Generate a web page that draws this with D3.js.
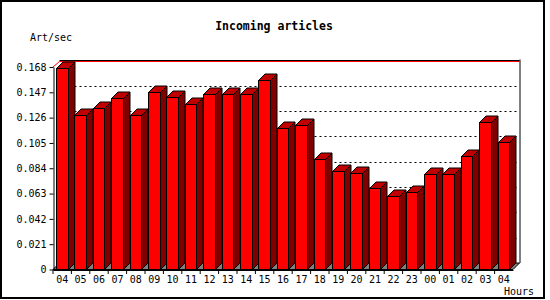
<!DOCTYPE html>
<html>
<head>
<meta charset="utf-8">
<script src="https://cdn.jsdelivr.net/npm/d3@7"></script>
<style>
	html, body { margin: 0; padding: 0; background: #fff; }
	svg text { font-family: "DejaVu Sans Mono", monospace; font-size: 10px; fill: #000; }
</style>
</head>
<body>
<script>

const HOURS = ['04', '05', '06', '07', '08', '09', '10', '11', '12', '13', '14', '15', '16',
		'17', '18', '19', '20', '21', '22', '23', '00', '01', '02', '03', '04'],
	ARTICLES = [0.167, 0.128, 0.134, 0.142, 0.128, 0.147, 0.143, 0.137, 0.146, 0.146, 0.146, 0.157, 0.117,
		0.120, 0.092, 0.082, 0.080, 0.068, 0.061, 0.064, 0.079, 0.079, 0.094, 0.122, 0.106],
	Y_TICKS = [0, 0.021, 0.042, 0.063, 0.084, 0.105, 0.126, 0.147, 0.168],
	Y_TICK_LABELS = ['0', '0.021', '0.042', '0.063', '0.084', '0.105', '0.126', '0.147', '0.168'];

const W = 550,
	H = 300,
	DEPTH = 6.5,
	BAR_OFFSET = 3,
	BAR_WIDTH = 11.5;

let svg = d3.select('body').append('svg')
	.attr('width', W)
	.attr('height', H);

let x = d3.scaleBand()
		.domain(d3.range(HOURS.length))
		.range([53, 513]),
	y = d3.scaleLinear()
		.domain([0, 0.168])
		.range([269.5, 67]);

let x0 = x.range()[0],
	x1 = x.range()[1],
	y0 = y(0),
	yTop = y(0.168);

// outer frame
svg.append('rect')
	.attr('x', 1)
	.attr('y', 1)
	.attr('width', 543)
	.attr('height', 297)
	.attr('fill', '#fff')
	.attr('stroke', '#000')
	.attr('stroke-width', 2);

// back wall gridlines, shifted by the 3d depth
svg.append('g')
	.selectAll('line')
	.data(Y_TICKS.slice(1, -1))
	.join('line')
		.attr('x1', x0 + DEPTH)
		.attr('x2', x1 + DEPTH)
		.attr('y1', d => Math.round(y(d) - DEPTH) + 0.5)
		.attr('y2', d => Math.round(y(d) - DEPTH) + 0.5)
		.attr('stroke', '#000')
		.attr('stroke-dasharray', '2,3');

// top of the wall: black edge with a red max line under it
svg.append('line')
	.attr('x1', x0 + DEPTH).attr('x2', x1 + DEPTH)
	.attr('y1', Math.round(yTop - DEPTH) - 0.5).attr('y2', Math.round(yTop - DEPTH) - 0.5)
	.attr('stroke', '#000');
svg.append('polyline')
	.attr('points', [[x0, yTop], [x0 + DEPTH, Math.round(yTop - DEPTH) + 0.5], [x1 + DEPTH, Math.round(yTop - DEPTH) + 0.5]].join(' '))
	.attr('fill', 'none')
	.attr('stroke', '#f00');

// right edge of the wall
svg.append('line')
	.attr('x1', x1 + DEPTH + 0.5).attr('x2', x1 + DEPTH + 0.5)
	.attr('y1', yTop - DEPTH - 1).attr('y2', y0 - DEPTH)
	.attr('stroke', '#000');

// floor
svg.append('polygon')
	.attr('points', [[x0, y0], [x1, y0], [x1 + DEPTH, y0 - DEPTH], [x0 + DEPTH, y0 - DEPTH]].join(' '))
	.attr('fill', '#808080')
	.attr('stroke', '#000');

// bars: side, top and front faces
let bars = svg.append('g')
	.selectAll('g')
	.data(ARTICLES)
	.join('g')
		.attr('stroke', '#000')
		.attr('stroke-linejoin', 'miter');

bars.append('polygon')
	.attr('points', (d, i) => {
		let fx = Math.round(x(i) + BAR_OFFSET + BAR_WIDTH) + 0.5,
			fy = Math.round(y(d)) + 0.5;
		return [[fx, fy], [fx + DEPTH, fy - DEPTH], [fx + DEPTH, y0 - DEPTH], [fx, y0]].join(' ');
	})
	.attr('fill', '#800000');

bars.append('polygon')
	.attr('points', (d, i) => {
		let fx = Math.round(x(i) + BAR_OFFSET) + 0.5,
			fx2 = Math.round(x(i) + BAR_OFFSET + BAR_WIDTH) + 0.5,
			fy = Math.round(y(d)) + 0.5;
		return [[fx, fy], [fx + DEPTH, fy - DEPTH], [fx2 + DEPTH, fy - DEPTH], [fx2, fy]].join(' ');
	})
	.attr('fill', '#c00000');

bars.append('rect')
	.attr('x', (d, i) => Math.round(x(i) + BAR_OFFSET) + 0.5)
	.attr('y', d => Math.round(y(d)) + 0.5)
	.attr('width', (d, i) => Math.round(x(i) + BAR_OFFSET + BAR_WIDTH) - Math.round(x(i) + BAR_OFFSET))
	.attr('height', d => y0 - Math.round(y(d)) - 0.5)
	.attr('fill', '#f00');

// y axis
let yAxis = svg.append('g')
	.attr('transform', 'translate(' + (x0 + 0.5) + ',0)')
	.call(d3.axisLeft(y)
		.tickValues(Y_TICKS)
		.tickFormat((d, i) => Y_TICK_LABELS[i])
		.tickSize(4)
		.tickPadding(3)
		.tickSizeOuter(0));

// x axis, ticks on the band edges
let xAxis = svg.append('g')
	.attr('transform', 'translate(0,' + (y0 + 0.5) + ')')
	.call(d3.axisBottom(x)
		.tickFormat(i => HOURS[i])
		.tickSize(0)
		.tickPadding(6)
		.tickSizeOuter(0));

xAxis.selectAll('.tick')
	.append('line')
	.attr('x1', -x.bandwidth() / 2)
	.attr('x2', -x.bandwidth() / 2)
	.attr('y2', 4)
	.attr('stroke', '#000');

svg.selectAll('.domain').attr('stroke', '#000');
svg.selectAll('.tick text')
	.attr('font-family', '"DejaVu Sans Mono", monospace')
	.attr('font-size', 10)
	.attr('fill', '#000');

// titles
svg.append('text')
	.attr('x', 274)
	.attr('y', 30)
	.attr('text-anchor', 'middle')
	.style('font-weight', 'bold')
	.style('font-size', '11.5px')
	.text('Incoming articles');

svg.append('text')
	.attr('x', 30)
	.attr('y', 41)
	.text('Art/sec');

svg.append('text')
	.attr('x', 504)
	.attr('y', 295)
	.text('Hours');

</script>
</body>
</html>
